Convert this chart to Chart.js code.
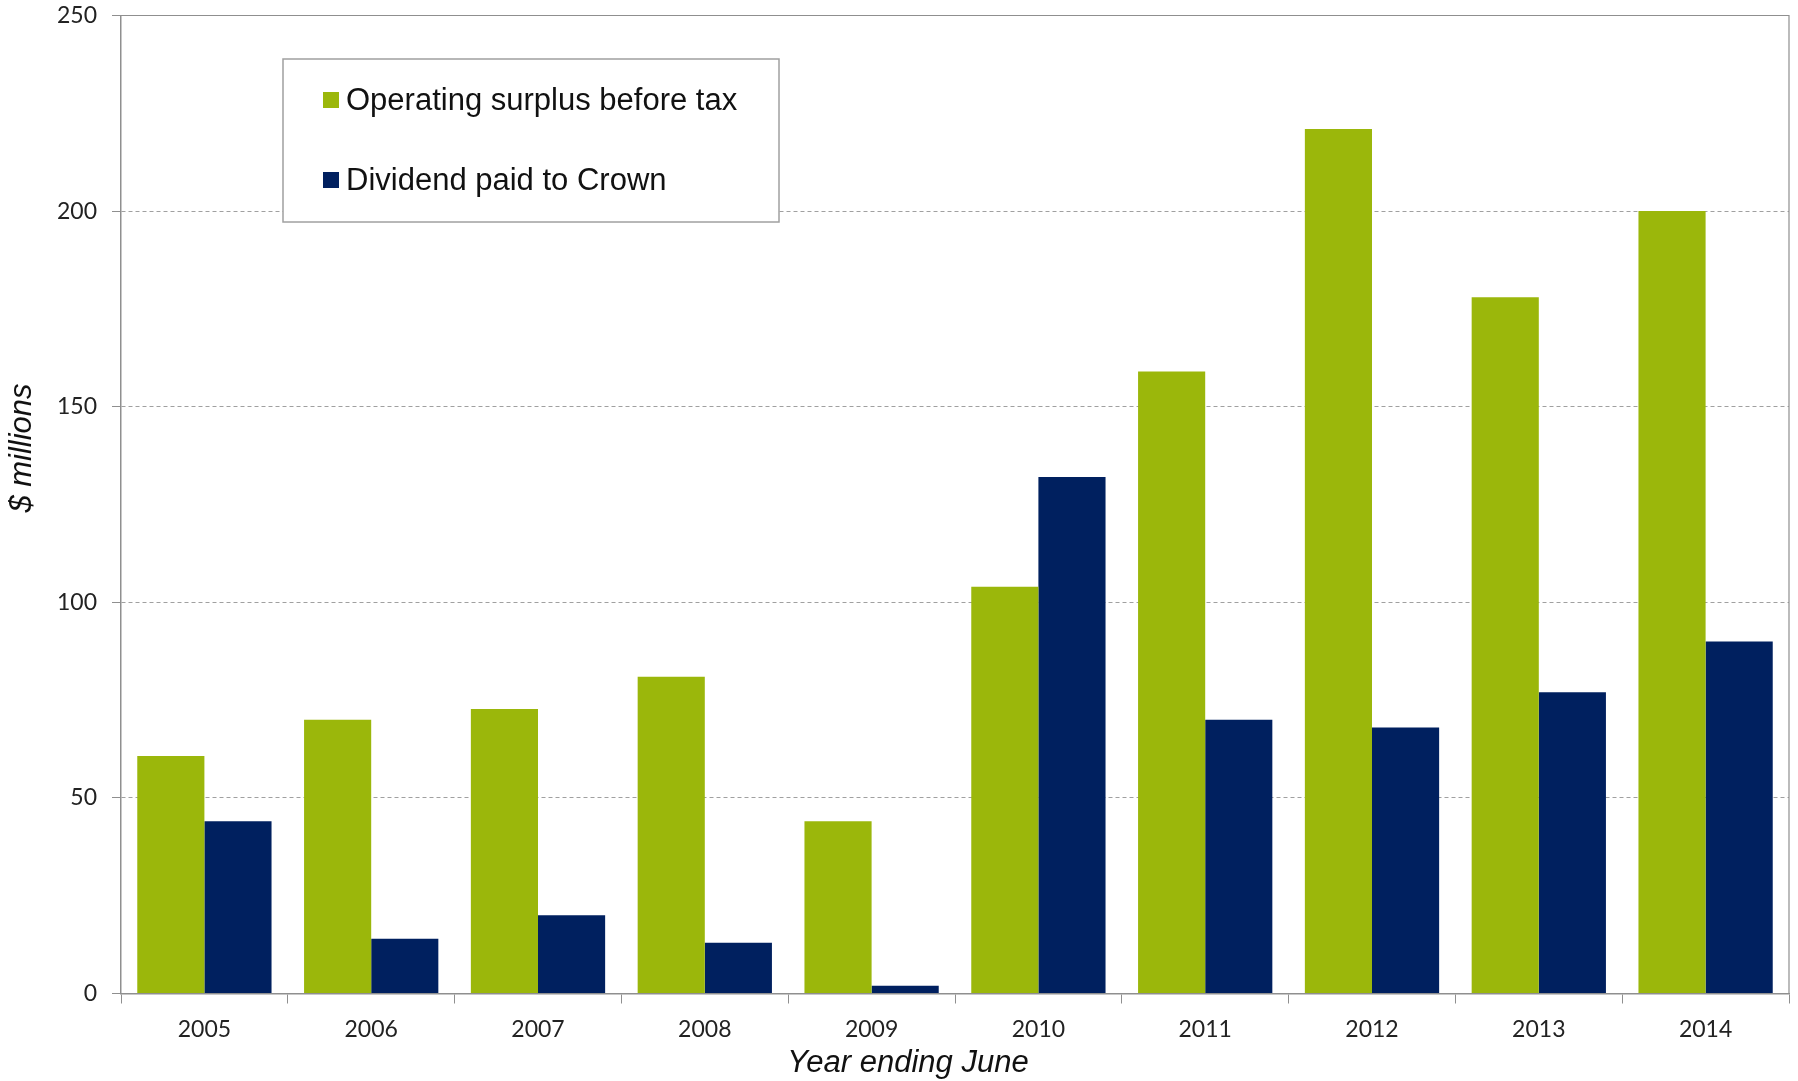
<!DOCTYPE html>
<html>
<head>
<meta charset="utf-8">
<title>Operating surplus and dividend</title>
<script src="https://cdn.jsdelivr.net/npm/chart.js@4/dist/chart.umd.min.js"></script>
<style>
  html, body { margin: 0; padding: 0; background: #fff; }
  #wrap { width: 1798px; height: 1081px; }
</style>
</head>
<body>
<div id="wrap"><canvas id="surplusChart" width="1798" height="1081"></canvas></div>
<script>
const years = ['2005', '2006', '2007', '2008', '2009', '2010', '2011', '2012', '2013', '2014'];
const operatingSurplus = [60.7, 70, 72.7, 81, 44, 104, 159, 221, 178, 200];
const dividendPaid = [44, 14, 20, 13, 2, 132, 70, 68, 77, 90];
const yTicks = [0, 50, 100, 150, 200, 250];

const axisGrey = '#8f8f8f';

// legend box sitting inside the plot, plus the two axis titles
const extras = {
  id: 'extras',
  afterDraw(chart) {
    const ctx = chart.ctx;
    const area = chart.chartArea;
    ctx.save();

    // top and right frame lines
    ctx.strokeStyle = axisGrey;
    ctx.lineWidth = 1.2;
    ctx.beginPath();
    ctx.moveTo(area.left, area.top);
    ctx.lineTo(area.right, area.top);
    ctx.lineTo(area.right, area.bottom);
    ctx.stroke();

    // legend
    const lx = 283, ly = 59, lw = 496, lh = 163;
    ctx.fillStyle = '#fff';
    ctx.fillRect(lx, ly, lw, lh);
    ctx.strokeStyle = '#a0a0a0';
    ctx.lineWidth = 1.5;
    ctx.strokeRect(lx, ly, lw, lh);
    ctx.font = '31px "Liberation Sans", Arial, sans-serif';
    ctx.textBaseline = 'middle';
    chart.data.datasets.forEach(function (ds, i) {
      const cy = 100 + i * 80;
      ctx.fillStyle = ds.backgroundColor;
      ctx.fillRect(323, cy - 8, 16, 16);
      ctx.fillStyle = '#111';
      ctx.fillText(ds.label, 346, cy + 1);
    });

    // axis titles
    ctx.fillStyle = '#111';
    ctx.font = 'italic 31px "Liberation Sans", Arial, sans-serif';
    ctx.textAlign = 'center';
    ctx.fillText('Year ending June', 908, 1063);
    ctx.translate(22, 448);
    ctx.rotate(-Math.PI / 2);
    ctx.fillText('$ millions', 0, 0);
    ctx.restore();
  }
};

const ctx = document.getElementById('surplusChart');
new Chart(ctx, {
  type: 'bar',
  data: {
    labels: years,
    datasets: [
      {
        label: 'Operating surplus before tax',
        backgroundColor: '#9bb70b',
        data: operatingSurplus
      },
      {
        label: 'Dividend paid to Crown',
        backgroundColor: '#00205f',
        data: dividendPaid
      }
    ]
  },
  options: {
    responsive: false,
    animation: false,
    layout: { padding: { top: 15.5, right: 9, left: 0, bottom: 0 } },
    datasets: {
      bar: { categoryPercentage: 0.805, barPercentage: 1.0 }
    },
    plugins: {
      legend: { display: false },
      tooltip: { enabled: false }
    },
    scales: {
      x: {
        afterFit: function (scale) { scale.height = 87.5; },
        grid: {
          offset: true,
          drawOnChartArea: false,
          drawTicks: true,
          tickLength: 10,
          color: axisGrey
        },
        border: { color: axisGrey, width: 1.5 },
        ticks: {
          padding: 12,
          color: '#222',
          font: { family: 'Lato, "Open Sans", sans-serif', size: 23 }
        }
      },
      y: {
        min: 0,
        max: 250,
        afterFit: function (scale) {
          scale.width = 121;
          scale.paddingTop = 0;
          scale.paddingBottom = 0;
        },
        afterBuildTicks: function (scale) {
          scale.ticks = yTicks.map(function (v) { return { value: v }; });
        },
        grid: {
          color: '#a0a0a0',
          lineWidth: 1,
          tickBorderDash: [],
          tickColor: axisGrey,
          tickLength: 9
        },
        border: { color: axisGrey, width: 1.5, dash: [4, 3] },
        ticks: {
          padding: 15,
          color: '#222',
          font: { family: 'Lato, "Open Sans", sans-serif', size: 23 }
        }
      }
    }
  },
  plugins: [extras]
});
</script>
</body>
</html>
